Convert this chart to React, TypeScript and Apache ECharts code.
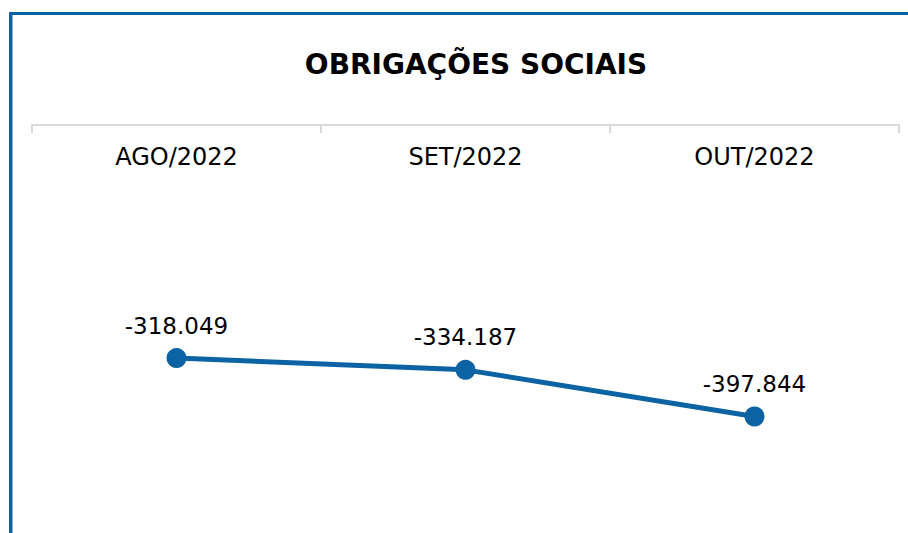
import React, { useEffect, useRef } from "react";
import * as echarts from "echarts";

const TITLE = "OBRIGAÇÕES SOCIAIS";
const categories = ["AGO/2022", "SET/2022", "OUT/2022"];
const values = [-318049, -334187, -397844];

const BLUE = "#0B63A3";
const FONT = "DejaVu Sans";

function fmt(v: number): string {
  const s = Math.abs(v).toString().replace(/\B(?=(\d{3})+(?!\d))/g, ".");
  return (v < 0 ? "-" : "") + s;
}

export default function App() {
  const ref = useRef<HTMLDivElement>(null);
  useEffect(() => {
    if (!ref.current) return;
    const chart = echarts.init(ref.current, null, { renderer: "svg" });
    chart.setOption({
      animation: false,
      backgroundColor: "#ffffff",
      title: {
        text: TITLE,
        left: 471,
        top: 45,
        textAlign: "center",
        textStyle: { fontFamily: FONT, fontWeight: "bold", fontSize: 28, color: "#000000" },
      },
      graphic: [
        { type: "rect", shape: { x: 9, y: 12, width: 899, height: 3 }, style: { fill: BLUE }, z: 10 },
        { type: "rect", shape: { x: 9, y: 12, width: 3.5, height: 521 }, style: { fill: BLUE }, z: 10 },
      ],
      grid: { left: 32, right: 9, top: 125, bottom: 5 },
      xAxis: {
        type: "category",
        position: "top",
        data: categories,
        boundaryGap: true,
        axisLine: { show: true, lineStyle: { color: "#D9D9D9", width: 2 } },
        axisTick: { show: true, inside: true, length: 8, lineStyle: { color: "#D9D9D9", width: 2 } },
        axisLabel: {
          inside: true,
          margin: 20,
          verticalAlign: "top",
          fontFamily: FONT,
          fontSize: 24,
          color: "#000000",
        },
        splitLine: { show: false },
      },
      yAxis: {
        type: "value",
        min: -550000,
        max: 0,
        show: false,
        splitLine: { show: false },
      },
      series: [
        {
          type: "line",
          data: values,
          symbol: "circle",
          symbolSize: 20,
          lineStyle: { color: BLUE, width: 5 },
          itemStyle: { color: BLUE },
          label: {
            show: true,
            position: "top",
            distance: 11,
            fontFamily: FONT,
            fontSize: 23,
            color: "#000000",
            formatter: (p: any) => fmt(p.value),
          },
        },
      ],
    });
    return () => chart.dispose();
  }, []);
  return (
    <div
      ref={ref}
      style={{ position: "fixed", left: 0, top: 0, width: 908, height: 533, background: "#fff" }}
    />
  );
}
